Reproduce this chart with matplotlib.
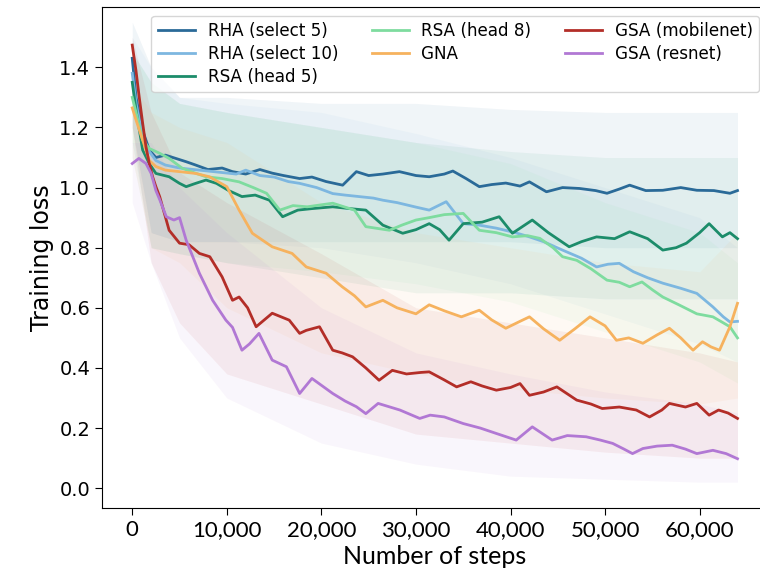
import matplotlib
matplotlib.use("Agg")
import matplotlib.pyplot as plt
from matplotlib.ticker import FuncFormatter

# ---- data (smoothed curves) ----
rha5_x = [0, 400, 1100, 1800, 2500, 3500, 4600, 5700, 6700, 8000, 9500, 10600, 12000, 13500, 14800, 16000, 17700, 19000, 20500, 22250, 23700, 25000, 26500, 28250, 30000, 31400, 33000, 33900, 35300, 36700, 38000, 39500, 41000, 42000, 43800, 45500, 47300, 49000, 50200, 51500, 52600, 54300, 56100, 58000, 59700, 61500, 63200, 64000]
rha5_y = [1.43, 1.30, 1.19, 1.125, 1.10, 1.108, 1.097, 1.086, 1.075, 1.06, 1.065, 1.053, 1.045, 1.06, 1.048, 1.04, 1.03, 1.035, 1.02, 1.008, 1.053, 1.04, 1.045, 1.053, 1.04, 1.036, 1.045, 1.055, 1.03, 1.003, 1.01, 1.015, 1.005, 1.019, 0.986, 1.0, 0.997, 0.99, 0.981, 0.995, 1.008, 0.99, 0.991, 1.0, 0.991, 0.99, 0.981, 0.99]

rha10_x = [0, 400, 1100, 1800, 2500, 3500, 5000, 6500, 8000, 9500, 11000, 12000, 13500, 15000, 16500, 17700, 19500, 21200, 22500, 24000, 25500, 26500, 28000, 30000, 31400, 33200, 35000, 36700, 38500, 40500, 42000, 43500, 45500, 47500, 49100, 50300, 51500, 53000, 54500, 56100, 58000, 59700, 61400, 62500, 63200, 64000]
rha10_y = [1.38, 1.28, 1.17, 1.12, 1.09, 1.075, 1.065, 1.06, 1.055, 1.05, 1.045, 1.058, 1.04, 1.035, 1.02, 1.014, 1.0, 0.98, 0.975, 0.97, 0.965, 0.958, 0.95, 0.935, 0.925, 0.953, 0.88, 0.875, 0.865, 0.85, 0.836, 0.82, 0.792, 0.765, 0.736, 0.745, 0.748, 0.72, 0.70, 0.682, 0.665, 0.648, 0.603, 0.57, 0.553, 0.555]

rsa5_x = [0, 400, 1100, 1800, 2500, 3900, 5000, 5700, 6700, 7800, 8900, 10200, 11600, 13000, 14500, 15900, 17500, 19000, 21200, 23000, 24700, 26500, 28600, 30000, 31400, 32500, 33500, 35000, 37000, 38800, 40200, 42300, 44000, 46200, 47500, 49100, 51000, 52600, 54500, 56100, 57500, 58600, 60000, 61000, 62400, 63200, 64000]
rsa5_y = [1.35, 1.258, 1.125, 1.08, 1.047, 1.036, 1.014, 1.003, 1.014, 1.025, 1.014, 0.99, 0.97, 0.975, 0.958, 0.903, 0.925, 0.93, 0.936, 0.93, 0.925, 0.875, 0.848, 0.86, 0.88, 0.86, 0.825, 0.88, 0.885, 0.903, 0.848, 0.892, 0.85, 0.803, 0.82, 0.836, 0.83, 0.853, 0.83, 0.792, 0.80, 0.815, 0.85, 0.88, 0.836, 0.85, 0.83]

rsa8_x = [0, 400, 1100, 1800, 2900, 3900, 5300, 6500, 7800, 9500, 11300, 12800, 14200, 15600, 17000, 18500, 21200, 22500, 23500, 24700, 27200, 28500, 30000, 31400, 33000, 35000, 36700, 38500, 40200, 41800, 43100, 44500, 45500, 47000, 48500, 50200, 51500, 52600, 53900, 55000, 56100, 57800, 59700, 61400, 62500, 63200, 64000]
rsa8_y = [1.30, 1.25, 1.158, 1.13, 1.114, 1.097, 1.064, 1.05, 1.036, 1.03, 1.019, 1.0, 0.981, 0.925, 0.94, 0.936, 0.948, 0.935, 0.925, 0.87, 0.858, 0.875, 0.892, 0.9, 0.91, 0.914, 0.858, 0.85, 0.836, 0.84, 0.831, 0.80, 0.77, 0.758, 0.73, 0.692, 0.685, 0.67, 0.686, 0.66, 0.636, 0.61, 0.58, 0.57, 0.55, 0.537, 0.50]

gna_x = [0, 400, 1100, 1800, 2500, 3500, 5000, 6700, 8150, 10000, 11300, 12700, 14800, 16900, 18400, 20500, 22200, 23500, 24700, 26500, 28000, 30000, 31400, 33000, 34800, 36700, 38000, 39500, 41000, 42000, 43500, 45200, 46800, 48400, 50000, 51200, 52500, 54000, 55500, 56800, 58000, 59300, 60300, 61200, 62100, 63200, 64000]
gna_y = [1.265, 1.225, 1.158, 1.09, 1.07, 1.058, 1.053, 1.047, 1.036, 1.003, 0.925, 0.848, 0.803, 0.781, 0.736, 0.715, 0.67, 0.64, 0.603, 0.625, 0.60, 0.58, 0.61, 0.59, 0.57, 0.592, 0.56, 0.532, 0.555, 0.57, 0.53, 0.492, 0.53, 0.57, 0.54, 0.492, 0.50, 0.482, 0.51, 0.532, 0.50, 0.459, 0.487, 0.47, 0.459, 0.537, 0.615]

gsam_x = [0, 390, 740, 1100, 1450, 1800, 2150, 2500, 2900, 3900, 5000, 6000, 7100, 8200, 9500, 10600, 11300, 12200, 13100, 14800, 16600, 17700, 18400, 19800, 21200, 22200, 23300, 24700, 26100, 27500, 29000, 30500, 31400, 33000, 34300, 35800, 37000, 38500, 40000, 41000, 42000, 43500, 44900, 47000, 48500, 49700, 51500, 53300, 54700, 56000, 56800, 58500, 59700, 61000, 62000, 63000, 64000]
gsam_y = [1.474, 1.39, 1.30, 1.214, 1.136, 1.08, 1.036, 1.003, 0.97, 0.858, 0.815, 0.81, 0.781, 0.77, 0.703, 0.625, 0.636, 0.60, 0.537, 0.582, 0.559, 0.515, 0.525, 0.537, 0.459, 0.45, 0.437, 0.40, 0.359, 0.392, 0.38, 0.385, 0.387, 0.36, 0.337, 0.354, 0.34, 0.326, 0.335, 0.348, 0.309, 0.32, 0.337, 0.293, 0.28, 0.265, 0.27, 0.26, 0.237, 0.26, 0.282, 0.27, 0.282, 0.243, 0.26, 0.25, 0.232]

gsar_x = [0, 700, 1450, 2000, 2500, 2900, 3600, 4400, 5000, 5700, 7100, 8500, 9900, 10600, 11600, 12400, 13400, 14800, 16300, 17700, 19000, 21200, 22500, 23700, 24700, 26000, 28300, 30400, 31500, 33000, 35000, 36800, 38500, 40600, 42300, 44400, 46000, 48000, 49500, 50800, 52000, 52900, 54000, 55500, 57100, 58500, 59700, 61400, 62800, 64000]
gsar_y = [1.08, 1.097, 1.08, 1.047, 0.99, 0.96, 0.903, 0.892, 0.90, 0.825, 0.715, 0.625, 0.559, 0.535, 0.459, 0.48, 0.515, 0.426, 0.404, 0.315, 0.365, 0.315, 0.29, 0.271, 0.248, 0.282, 0.26, 0.232, 0.243, 0.237, 0.215, 0.20, 0.182, 0.16, 0.204, 0.16, 0.175, 0.171, 0.16, 0.149, 0.13, 0.115, 0.132, 0.14, 0.143, 0.13, 0.115, 0.126, 0.115, 0.098]

# ---- spread of the raw (unsmoothed) losses, read as rough envelopes ----
band_x = [0, 2000, 5000, 10000, 20000, 30000, 40000, 50000, 60000, 64000]
rha5_lo = [1.20, 0.85, 0.82, 0.82, 0.82, 0.82, 0.82, 0.80, 0.80, 0.80]
rha5_hi = [1.55, 1.40, 1.30, 1.30, 1.28, 1.28, 1.26, 1.25, 1.25, 1.25]
rha10_lo = [1.20, 0.85, 0.82, 0.82, 0.80, 0.75, 0.68, 0.58, 0.48, 0.42]
rha10_hi = [1.50, 1.40, 1.30, 1.28, 1.25, 1.18, 1.10, 1.00, 0.90, 0.80]
rsa5_lo = [1.15, 0.80, 0.78, 0.75, 0.70, 0.65, 0.65, 0.63, 0.63, 0.63]
rsa5_hi = [1.45, 1.35, 1.28, 1.25, 1.20, 1.15, 1.12, 1.10, 1.10, 1.10]
rsa8_lo = [1.10, 0.80, 0.78, 0.75, 0.72, 0.68, 0.62, 0.52, 0.42, 0.35]
rsa8_hi = [1.45, 1.35, 1.28, 1.25, 1.20, 1.15, 1.08, 0.95, 0.85, 0.75]
gna_lo = [1.10, 0.80, 0.75, 0.60, 0.45, 0.38, 0.33, 0.30, 0.28, 0.30]
gna_hi = [1.35, 1.25, 1.20, 1.15, 0.95, 0.85, 0.80, 0.75, 0.72, 0.85]
gsam_lo = [1.20, 0.75, 0.55, 0.38, 0.28, 0.18, 0.15, 0.12, 0.10, 0.10]
gsam_hi = [1.50, 1.25, 1.05, 0.95, 0.78, 0.60, 0.55, 0.50, 0.45, 0.42]
gsar_lo = [0.95, 0.75, 0.50, 0.30, 0.15, 0.08, 0.04, 0.03, 0.02, 0.02]
gsar_hi = [1.15, 1.15, 1.00, 0.85, 0.60, 0.45, 0.38, 0.32, 0.28, 0.25]

labels = ["RHA (select 5)", "RHA (select 10)", "RSA (head 5)", "RSA (head 8)",
          "GNA", "GSA (mobilenet)", "GSA (resnet)"]
colors = ["#2a6a98", "#7db7e0", "#1c8c6a", "#7edc9f", "#f6b25e", "#b32e28", "#b178d4"]
xs = [rha5_x, rha10_x, rsa5_x, rsa8_x, gna_x, gsam_x, gsar_x]
ys = [rha5_y, rha10_y, rsa5_y, rsa8_y, gna_y, gsam_y, gsar_y]
los = [rha5_lo, rha10_lo, rsa5_lo, rsa8_lo, gna_lo, gsam_lo, gsar_lo]
his = [rha5_hi, rha10_hi, rsa5_hi, rsa8_hi, gna_hi, gsam_hi, gsar_hi]

fig = plt.figure(figsize=(7.6, 5.81), dpi=100)
ax = fig.add_axes([0.1342, 0.1256, 0.876, 0.862])

for lo, hi, c in zip(los, his, colors):
    ax.fill_between(band_x, lo, hi, color=c, alpha=0.065, linewidth=0)

for x, y, c, lab in zip(xs, ys, colors, labels):
    ax.plot(x, y, color=c, lw=2.0, label=lab)

ax.set_xlim(-3200, 67200)
ax.set_ylim(-0.066, 1.60)
ax.set_xticks(range(0, 60001, 10000))
ax.set_yticks([0.0, 0.2, 0.4, 0.6, 0.8, 1.0, 1.2, 1.4])
ax.xaxis.set_major_formatter(FuncFormatter(lambda v, p: f"{int(v):,}"))
ax.tick_params(axis="y", labelsize=14, length=5)
ax.tick_params(axis="x", length=5)
for t in ax.get_xticklabels():
    t.set_fontfamily("Lato")
    t.set_fontsize(16)
ax.set_ylabel("Training loss", fontsize=17)
ax.set_xlabel("Number of steps", fontsize=18, fontfamily="Lato")

ax.legend(loc="upper right", ncol=3, fontsize=12.1, labelspacing=0.28,
          handlelength=2.2, handletextpad=0.75, columnspacing=2.0)

fig.savefig("out.png", dpi=100)
